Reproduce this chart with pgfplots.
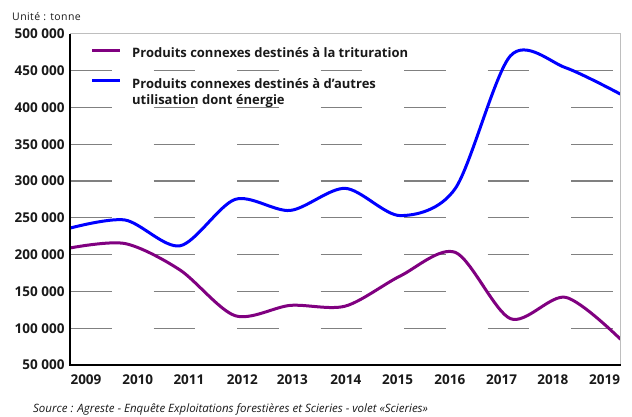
\documentclass[border=0pt]{standalone}
\usepackage{pgfplots}
\pgfplotsset{compat=1.18}
\usepackage{fontspec}
\setmainfont{Open Sans}
\definecolor{cblue}{RGB}{0,0,255}
\definecolor{cpurple}{RGB}{128,0,128}
\definecolor{gridgray}{RGB}{128,128,128}
\definecolor{framegray}{RGB}{190,190,190}
\definecolor{txt}{RGB}{25,25,25}
\pgfplotsset{
  legA/.style={legend image code/.code={\draw[##1, line width=3bp] (0bp,0.35em) -- (27.6bp,0.35em);}},
  legB/.style={legend image code/.code={\draw[##1, line width=3bp] (0bp,0.35em+8.5bp) -- (27.6bp,0.35em+8.5bp);}},
}
\begin{document}
\begin{tikzpicture}[x=1bp,y=1bp]
\path[use as bounding box] (0,0) rectangle (632,416);
\begin{axis}[
  at={(70bp,51bp)}, anchor=south west,
  scale only axis, width=550.5bp, height=331.2bp,
  xmin=2009, xmax=2019, ymin=50000, ymax=500000,
  scaled y ticks=false,
  xtick={2009.29,2010.23,2011.16,2012.13,2013.04,2014.01,2014.95,2015.90,2016.84,2017.77,2018.71},
  xticklabels={2009,2010,2011,2012,2013,2014,2015,2016,2017,2018,2019},
  ytick={50000,100000,150000,200000,250000,300000,350000,400000,450000,500000},
  yticklabels={{50 000},{100 000},{150 000},{200 000},{250 000},{300 000},{350 000},{400 000},{450 000},{500 000}},
  major tick length=0pt,
  ymajorgrids,
  grid style={gridgray, line width=1.3bp, dash pattern=on 41.5bp off 42bp},
  axis line style={draw=none},
  clip mode=individual,
  tick label style={font=\fontsize{13.5bp}{16bp}\selectfont\bfseries, text=txt},
  yticklabel style={anchor=east, xshift=-2bp},
  xticklabel style={anchor=north, yshift=-6bp},
  legend cell align=left,
  legend style={at={(axis description cs:0,1)}, anchor=north west,
    xshift=20.7bp, yshift=-14bp, draw=none, fill=none, inner sep=0pt,
    row sep=19bp, column sep=10.7bp,
    font=\fontsize{13bp}{16bp}\selectfont\bfseries,
    nodes={inner sep=0pt, align=left, text=txt}},
]
\addplot[cpurple, line width=3bp, smooth, legA] coordinates {
 (2009,209000)(2010,215000)(2011,179000)(2012,117000)(2013,131000)(2014,130000)
 (2015,171000)(2016,203000)(2017,113000)(2018,142000)(2019,85000)};
\addlegendentry{Produits connexes destinés à la trituration}
\addplot[cblue, line width=3bp, smooth, legB] coordinates {
 (2009,236000)(2010,247000)(2011,212000)(2012,275000)(2013,260000)(2014,290000)
 (2015,253000)(2016,290000)(2017,470000)(2018,454000)(2019,418000)};
\addlegendentry{Produits connexes destinés à d’autres\\utilisation dont énergie}
\draw[framegray, line width=1bp] (rel axis cs:0,1) -- (rel axis cs:1,1) -- (rel axis cs:1,0);
\draw[black, line width=1.5bp] (rel axis cs:0,1) -- (rel axis cs:0,0) -- (rel axis cs:1,0);
\end{axis}
\node[anchor=west, inner sep=0pt, text=txt, font=\fontsize{10.5bp}{12bp}\selectfont\addfontfeatures{LetterSpace=4}] at (12,399) {Unité : tonne};
\node[anchor=west, inner sep=0pt, text=txt, font=\fontsize{11.5bp}{12bp}\selectfont\itshape] at (33,6.5) {Source : Agreste - Enquête Exploitations forestières et Scieries - volet «Scieries»};
\end{tikzpicture}
\end{document}
